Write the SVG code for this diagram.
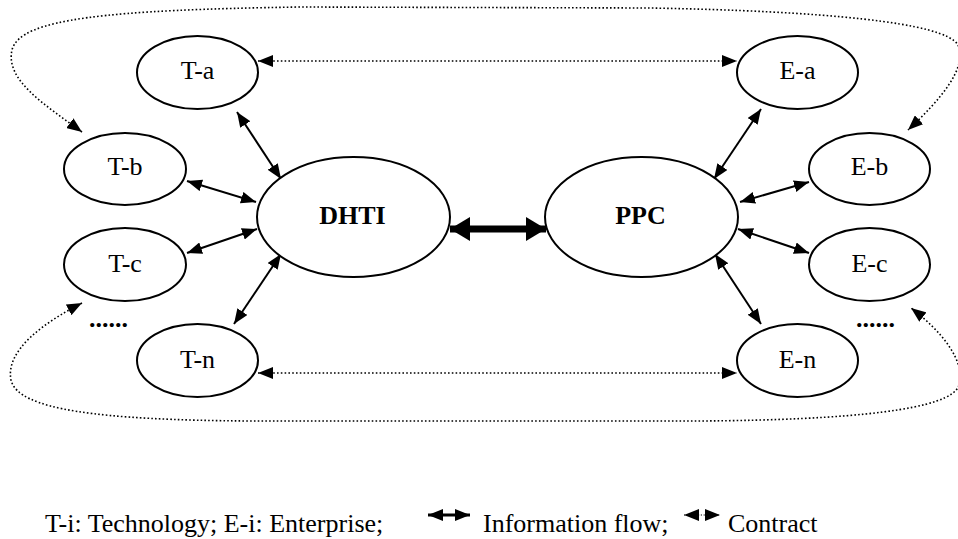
<svg xmlns="http://www.w3.org/2000/svg" width="958" height="539" viewBox="0 0 958 539">
<style>
.node ellipse{fill:#fff;stroke:#000;stroke-width:2}
text{font-family:'Liberation Serif','Times New Roman',Times,'DejaVu Serif',serif;font-size:26px;fill:#000}
.lbl{text-anchor:middle}
.bold{font-weight:bold}
.info{stroke:#000;stroke-width:2;fill:none;marker-start:url(#ah);marker-end:url(#ah)}
.contract{stroke:#000;stroke-width:1.6;stroke-dasharray:1.6 2.2;fill:none;marker-start:url(#ah);marker-end:url(#ah)}
.thick{stroke:#000;stroke-width:7;fill:none;marker-start:url(#bh);marker-end:url(#bh)}
</style>
<defs>
<marker id="ah" viewBox="0 0 15 12" refX="15" refY="6" markerWidth="15" markerHeight="12" markerUnits="userSpaceOnUse" orient="auto-start-reverse"><path d="M0,0 L15,6 L0,12 z" fill="#000"/></marker>
<marker id="bh" viewBox="0 0 20 24" refX="20" refY="12" markerWidth="20" markerHeight="24" markerUnits="userSpaceOnUse" orient="auto-start-reverse"><path d="M0,0 L20,12 L0,24 z" fill="#000"/></marker>
</defs>
<rect width="958" height="539" fill="#fff"/>
<g id="connectors">
<line class="info" x1="237" y1="112" x2="281" y2="179"/>
<line class="info" x1="187" y1="181" x2="256" y2="202"/>
<line class="info" x1="187" y1="253" x2="257" y2="229"/>
<line class="info" x1="234" y1="324" x2="281" y2="254"/>
<line class="info" x1="761" y1="109" x2="714" y2="179"/>
<line class="info" x1="809" y1="182" x2="740" y2="202"/>
<line class="info" x1="809" y1="253" x2="738" y2="229"/>
<line class="info" x1="761" y1="324" x2="715" y2="254"/>
<line class="thick" x1="450" y1="229" x2="546" y2="229"/>
<line class="contract" x1="258" y1="61" x2="737" y2="61"/>
<line class="contract" x1="258" y1="373" x2="737" y2="373"/>
<path class="contract" d="M82,132 C45,105 5,80 12,50 C20,18 110,10 300,7 L650,8 C820,11 945,22 958,45 C968,68 940,100 908,130"/>
<path class="contract" d="M82,303 C45,322 5,350 11,380 C18,410 100,420 250,421 L700,421 C850,420 952,410 959,385 C966,360 940,330 911,308"/>
</g>
<g id="T-a" class="node"><ellipse cx="197.5" cy="72.5" rx="60.5" ry="36.5"/><text class="lbl" x="197.5" y="79">T-a</text></g>
<g id="T-b" class="node"><ellipse cx="125" cy="169" rx="61" ry="36"/><text class="lbl" x="125" y="175">T-b</text></g>
<g id="T-c" class="node"><ellipse cx="125" cy="264.5" rx="61" ry="36.5"/><text class="lbl" x="125" y="272">T-c</text></g>
<g id="T-n" class="node"><ellipse cx="197.5" cy="360.5" rx="60.5" ry="36.5"/><text class="lbl" x="197.5" y="368">T-n</text></g>
<g id="DHTI" class="node"><ellipse cx="353.5" cy="217" rx="96.5" ry="60"/><text class="lbl bold" x="352.5" y="224">DHTI</text></g>
<g id="PPC" class="node"><ellipse cx="641.5" cy="217" rx="96.5" ry="60"/><text class="lbl bold" x="640.5" y="224">PPC</text></g>
<g id="E-a" class="node"><ellipse cx="797.5" cy="72.5" rx="60.5" ry="36.5"/><text class="lbl" x="797.5" y="79">E-a</text></g>
<g id="E-b" class="node"><ellipse cx="869.5" cy="169" rx="60.5" ry="36"/><text class="lbl" x="869.5" y="175">E-b</text></g>
<g id="E-c" class="node"><ellipse cx="869.5" cy="264.5" rx="60.5" ry="36.5"/><text class="lbl" x="869.5" y="272">E-c</text></g>
<g id="E-n" class="node"><ellipse cx="797.5" cy="360.5" rx="60.5" ry="36.5"/><text class="lbl" x="797.5" y="368">E-n</text></g>
<text class="bold" x="89" y="327">......</text>
<text class="bold" x="856" y="327">......</text>
<g id="legend">
<text x="45" y="532">T-i: Technology; E-i: Enterprise;</text>
<line x1="428" y1="515" x2="470" y2="515" stroke="#000" stroke-width="3" marker-start="url(#ah)" marker-end="url(#ah)"/>
<text x="483" y="532">Information flow;</text>
<line x1="684" y1="515" x2="720" y2="515" stroke="#000" stroke-width="1.2" stroke-dasharray="1.2 1.6" marker-start="url(#ah)" marker-end="url(#ah)"/>
<text x="728" y="532">Contract</text>
</g>
</svg>
